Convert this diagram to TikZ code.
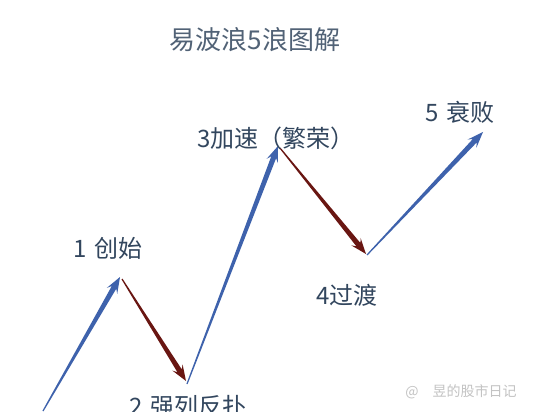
\documentclass[tikz,border=0pt]{standalone}
\usepackage{fontspec}
\setmainfont{Noto Sans CJK SC}
\usetikzlibrary{calc}

\definecolor{wavetext}{RGB}{50,70,94}
\definecolor{waveup}{RGB}{62,98,172}
\definecolor{wavedown}{RGB}{105,22,18}
\definecolor{markgray}{RGB}{195,195,195}

\tikzset{
  wavelabel/.style={text=wavetext, inner sep=0pt, font=\fontsize{24}{28}\selectfont},
  wavetitle/.style={text=wavetext!85, inner sep=0pt, font=\fontsize{26}{30}\selectfont},
}

% tapered arrow from #2 to #3
\newcommand{\wavearrow}[3]{%
  \fill[#1] ($(#2)!0.6pt!90:(#3)$) -- ($(#3)!12pt!(#2)!2.6pt!90:(#3)$) -- ($(#3)!16pt!(#2)!6pt!90:(#3)$) -- (#3)
    -- ($(#3)!16pt!(#2)!6pt!-90:(#3)$) -- ($(#3)!12pt!(#2)!2.6pt!-90:(#3)$) -- ($(#2)!0.6pt!-90:(#3)$) -- cycle;}

\begin{document}
\begin{tikzpicture}[x=1pt, y=-1pt]
\useasboundingbox[fill=white] (0,0) rectangle (539,412);

\node[wavetitle] (title) at (255,40) {易波浪5浪图解};

\coordinate (p0) at (43,411);
\coordinate (p1) at (120,277);
\coordinate (p1b) at (122,279);
\coordinate (p2) at (186,381);
\coordinate (p2b) at (187,384);
\coordinate (p3) at (278,146);
\coordinate (p3b) at (280,148);
\coordinate (p4) at (366,254);
\coordinate (p4b) at (367,255);
\coordinate (p5) at (483,132);

\wavearrow{waveup}{p0}{p1}
\wavearrow{wavedown}{p1b}{p2}
\wavearrow{waveup}{p2b}{p3}
\wavearrow{wavedown}{p3b}{p4}
\wavearrow{waveup}{p4b}{p5}

\node[wavelabel] (w1) at (108,248) {1\,\,创始};
\node[wavelabel] (w2) at (188,406) {2\,\,强列反扑};
\node[wavelabel] (w3) at (276,138) {3加速（繁荣）};
\node[wavelabel] (w4) at (347,295) {4过渡};
\node[wavelabel] (w5) at (460,112) {5\,\,衰败};

\node[text=markgray, inner sep=0pt, font=\fontsize{14}{16}\selectfont] (mark) at (461,392) {@\quad 昱的股市日记};
\end{tikzpicture}
\end{document}
